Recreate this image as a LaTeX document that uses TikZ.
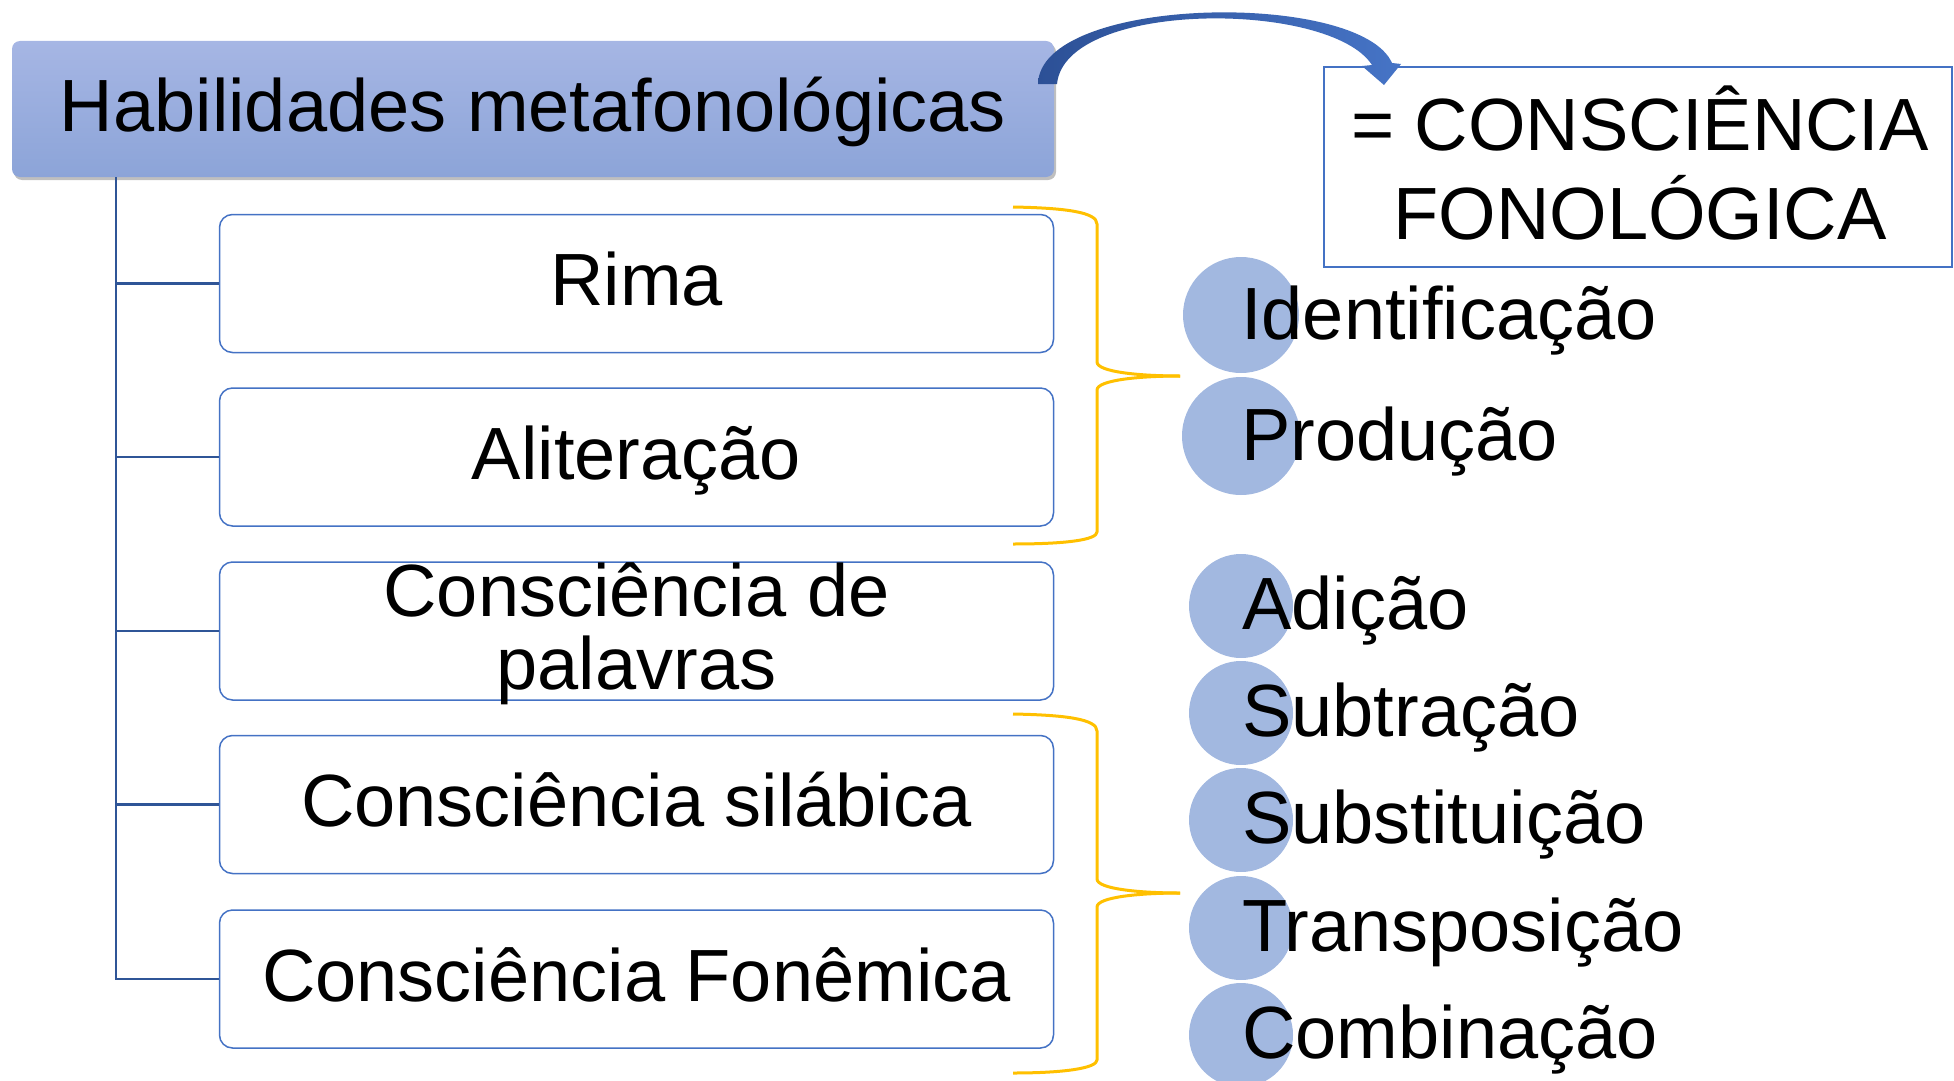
\documentclass[tikz,border=0pt]{standalone}
\usepackage{fontspec}
\setmainfont{Liberation Sans}
\usetikzlibrary{shadows,calc}
\definecolor{boxblue}{RGB}{68,114,196}
\definecolor{trunkblue}{RGB}{47,85,151}
\definecolor{circblue}{RGB}{162,184,224}
\definecolor{braceyel}{RGB}{255,192,0}
\definecolor{titletop}{RGB}{166,182,228}
\definecolor{titlebot}{RGB}{140,164,216}
\definecolor{arrowdark}{RGB}{44,80,150}
\definecolor{arrowlight}{RGB}{70,116,198}
\begin{document}
\begin{tikzpicture}[x=1pt,y=-1pt,
  big/.style={font=\fontsize{74}{89}\selectfont, inner sep=0pt},
  itembox/.style={draw=boxblue, line width=1.5pt, rounded corners=13pt, minimum width=834pt, minimum height=138pt, inner sep=0pt},
  lbl/.style={big, anchor=base},
  trunk/.style={draw=trunkblue, line width=2.5pt},
  circ/.style={circle, fill=circblue, inner sep=0pt},
  brace/.style={draw=braceyel, line width=3pt, line join=round},
  item/.style={big, anchor=base west},
]
\useasboundingbox (0,0) rectangle (1954,1081);

% title
\node[rounded corners=8pt, top color=titletop, bottom color=titlebot,
      minimum width=1042pt, minimum height=136pt, inner sep=0pt,
      drop shadow={shadow xshift=2pt, shadow yshift=-3pt, fill=black, opacity=0.25}] (title) at (533,109) {};
\node[lbl] (titletext) at ($(title.center)+(0,22)$) {Habilidades metafonológicas};

% item boxes
\node[itembox] (b1) at (636.5,283.5) {};
\node[itembox] (b2) at (636.5,457) {};
\node[itembox] (b3) at (636.5,631) {};
\node[itembox] (b4) at (636.5,804.5) {};
\node[itembox] (b5) at (636.5,979) {};
\node[lbl] (t1) at ($(b1.center)+(0,22)$) {Rima};
\node[lbl] (t2) at ($(b2.center)+(0,22)$) {Aliteração};
\node[lbl, align=center, font=\fontsize{74}{73}\selectfont] (t3) at ($(b3.center)+(0,58)$) {Consciência de\\palavras};
\node[lbl] (t4) at ($(b4.center)+(0,22)$) {Consciência silábica};
\node[lbl] (t5) at ($(b5.center)+(0,22)$) {Consciência Fonêmica};

% trunk
\coordinate (trunkx) at (116,0);
\coordinate (trunktop) at (title.south -| trunkx);
\draw[trunk] (trunktop) |- (b5.west);
\foreach \i in {1,2,3,4} { \draw[trunk] (trunktop |- b\i.west) -- (b\i.west); }

% right box
\node[draw=boxblue, line width=2pt, minimum width=628pt, minimum height=199pt, inner sep=0pt] (cf) at (1638,167) {};
\node[lbl, align=center] (cftext) at (1640,239) {= CONSCIÊNCIA\\FONOLÓGICA};

% curved arrow
\shade[left color=arrowdark, right color=arrowlight]
  (1038,84) .. controls (1040,-5) and (1360,-10) .. (1392,63)
  -- (1401,64) -- (1384,85) -- (1362,66) -- (1372,65)
  .. controls (1330,0) and (1065,0) .. (1057,84) -- cycle;

% braces
\draw[brace] (1013,207) .. controls (1065,208) and (1097,212) .. (1097,224)
  -- (1097,362) .. controls (1097,372) and (1140,376) .. (1180,376);
\draw[brace] (1180,376) .. controls (1140,376) and (1097,380) .. (1097,390)
  -- (1097,532) .. controls (1097,540) and (1065,544) .. (1013,544);
\draw[brace] (1013,714) .. controls (1065,715) and (1097,719) .. (1097,731)
  -- (1097,879) .. controls (1097,889) and (1140,893) .. (1180,893);
\draw[brace] (1180,893) .. controls (1140,893) and (1097,897) .. (1097,907)
  -- (1097,1060) .. controls (1097,1068) and (1065,1073) .. (1013,1073);

% circles and labels
\node[circ, minimum size=116pt] (c1) at (1241,315) {};
\node[circ, minimum size=118pt] (c2) at (1241,436) {};
\node[circ, minimum size=104pt] (c3) at (1241,606) {};
\node[circ, minimum size=104pt] (c4) at (1241,713) {};
\node[circ, minimum size=104pt] (c5) at (1241,820) {};
\node[circ, minimum size=104pt] (c6) at (1241,928) {};
\node[circ, minimum size=104pt] (c7) at (1241,1035) {};
\node[item] (l1) at ($(c1.center)+(0,24)$) {Identificação};
\node[item] (l2) at ($(c2.center)+(0,24)$) {Produção};
\node[item] (l3) at ($(c3.center)+(1,23.5)$) {Adição};
\node[item] (l4) at ($(c4.center)+(1,23.5)$) {Subtração};
\node[item] (l5) at ($(c5.center)+(1,23.5)$) {Substituição};
\node[item] (l6) at ($(c6.center)+(1,23.5)$) {Transposição};
\node[item] (l7) at ($(c7.center)+(1,23.5)$) {Combinação};
\end{tikzpicture}
\end{document}
